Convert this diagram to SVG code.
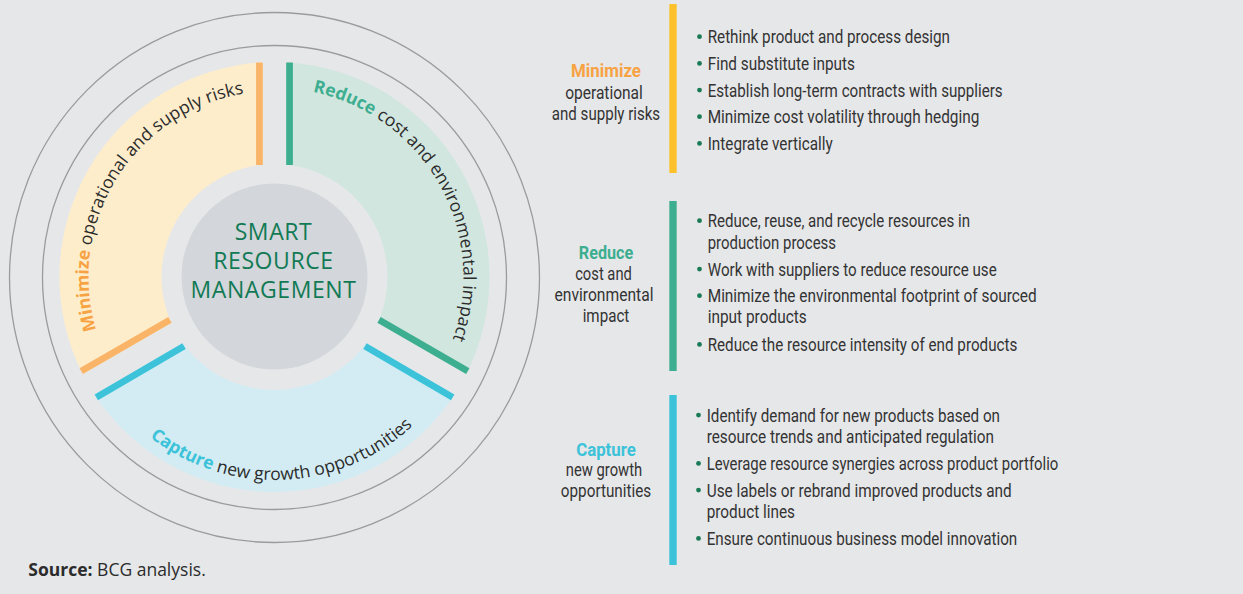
<svg xmlns="http://www.w3.org/2000/svg" width="1243" height="594" viewBox="0 0 1243 594">
<style>
.ring{fill:none;stroke:#9b9b9b;stroke-width:1.3}
.arc{font-family:"Open Sans","Noto Sans",sans-serif;font-size:17.5px;fill:#2b2b2b}
.ctr{font-family:"Open Sans","Noto Sans",sans-serif;font-size:23px;letter-spacing:0.6px;fill:#117a55;text-anchor:middle}
.lbl{font-family:Roboto,"Noto Sans",sans-serif;font-size:19px;fill:#333;text-anchor:middle}
.lo{fill:#f8a343;font-weight:bold}
.lg{fill:#3dae8f;font-weight:bold}
.lc{fill:#3cc3d9;font-weight:bold}
.b{font-family:Roboto,"Noto Sans",sans-serif;font-size:19px;fill:#333}
.dot{fill:#197a56}
.src{font-family:"Open Sans","Noto Sans",sans-serif;font-size:17.5px;fill:#2b2b2b}
</style>
<defs>
<path id="pMin" d="M127.93,391.52 A186,186 0 0 1 313.17,95.07"/>
<path id="pRed" d="M243.31,90.59 A189,189 0 0 1 418.22,399.74"/>
<path id="pCap" d="M86.95,354.69 A203,203 0 0 0 468.1,338.04"/>
</defs>
<rect width="1243" height="594" fill="#e6e7e9"/>
<g id="rings">
<circle class="ring" cx="274.5" cy="277.5" r="265"/>
<circle class="ring" cx="274.5" cy="277.5" r="232"/>
</g>
<g id="sector-minimize">
<path d="M262.8,62.32 A215,215 0 0 0 82.74,374.21 L171.32,323.07 A113,113 0 0 1 262.8,164.61 Z" fill="#feedcb"/>
<line x1="259.45" y1="62.52" x2="259.45" y2="165" stroke="#f9b467" stroke-width="6.7"/>
<line x1="169.98" y1="319.97" x2="81.23" y2="371.21" stroke="#f9b467" stroke-width="6.7"/>
<text class="arc"><textPath href="#pMin" startOffset="50%" text-anchor="middle"><tspan font-weight="bold" fill="#f8a343">Minimize</tspan> operational and supply risks</textPath></text>
</g>
<g id="sector-reduce">
<path d="M286.2,62.32 A215,215 0 0 1 466.26,374.21 L377.68,323.07 A113,113 0 0 0 286.2,164.61 Z" fill="#d1e6df"/>
<line x1="289.55" y1="62.52" x2="289.55" y2="165" stroke="#3dae8f" stroke-width="6.7"/>
<line x1="379.02" y1="319.97" x2="467.77" y2="371.21" stroke="#3dae8f" stroke-width="6.7"/>
<text class="arc"><textPath href="#pRed" startOffset="50%" text-anchor="middle"><tspan font-weight="bold" fill="#3dae8f">Reduce</tspan> cost and environmental impact</textPath></text>
</g>
<g id="sector-capture">
<path d="M94.44,394.47 A215,215 0 0 0 454.56,394.47 L365.98,343.33 A113,113 0 0 1 183.02,343.33 Z" fill="#d3ecf3"/>
<line x1="184.04" y1="346.03" x2="96.29" y2="397.27" stroke="#3cc3d9" stroke-width="6.7"/>
<line x1="364.96" y1="346.03" x2="452.71" y2="397.27" stroke="#3cc3d9" stroke-width="6.7"/>
<text class="arc" font-size="18"><textPath href="#pCap" startOffset="50%" text-anchor="middle"><tspan font-weight="bold" fill="#3cc3d9">Capture</tspan> new growth opportunities</textPath></text>
</g>
<g id="center">
<circle cx="274.5" cy="276.5" r="93" fill="#d3d6da"/>
<text class="ctr" x="273.5" y="240">SMART</text>
<text class="ctr" x="273.5" y="269">RESOURCE</text>
<text class="ctr" x="273.5" y="298">MANAGEMENT</text>
</g>
<g id="panel-minimize">
<text class="lbl lo" x="606" y="77.3" textLength="70" lengthAdjust="spacingAndGlyphs">Minimize</text>
<text class="lbl" x="604" y="98.5" textLength="77.7" lengthAdjust="spacingAndGlyphs">operational</text>
<text class="lbl" x="606" y="119.5" textLength="108.3" lengthAdjust="spacingAndGlyphs">and supply risks</text>
<rect x="669.3" y="4" width="7.4" height="169" fill="#fcc12b"/>
<circle class="dot" cx="699.5" cy="36.7" r="2.4"/>
<text class="b" x="707.7" y="43.3" textLength="242.3" lengthAdjust="spacingAndGlyphs">Rethink product and process design</text>
<circle class="dot" cx="699.5" cy="63.4" r="2.4"/>
<text class="b" x="707.7" y="70" textLength="147.3" lengthAdjust="spacingAndGlyphs">Find substitute inputs</text>
<circle class="dot" cx="699.5" cy="90.1" r="2.4"/>
<text class="b" x="707.7" y="96.7" textLength="295" lengthAdjust="spacingAndGlyphs">Establish long-term contracts with suppliers</text>
<circle class="dot" cx="699.5" cy="116.7" r="2.4"/>
<text class="b" x="707.7" y="123.3" textLength="271.6" lengthAdjust="spacingAndGlyphs">Minimize cost volatility through hedging</text>
<circle class="dot" cx="699.5" cy="143.4" r="2.4"/>
<text class="b" x="707.7" y="150" textLength="125" lengthAdjust="spacingAndGlyphs">Integrate vertically</text>
</g>
<g id="panel-reduce">
<text class="lbl lg" x="606" y="259" textLength="54.3" lengthAdjust="spacingAndGlyphs">Reduce</text>
<text class="lbl" x="603.5" y="280" textLength="56.7" lengthAdjust="spacingAndGlyphs">cost and</text>
<text class="lbl" x="604" y="301" textLength="99" lengthAdjust="spacingAndGlyphs">environmental</text>
<text class="lbl" x="606" y="322" textLength="46.6" lengthAdjust="spacingAndGlyphs">impact</text>
<rect x="669.3" y="201" width="7.4" height="170" fill="#3dae8f"/>
<circle class="dot" cx="699.5" cy="220.7" r="2.4"/>
<text class="b" x="707.7" y="227.3" textLength="262.3" lengthAdjust="spacingAndGlyphs">Reduce, reuse, and recycle resources in</text>
<text class="b" x="707.7" y="249" textLength="128.3" lengthAdjust="spacingAndGlyphs">production process</text>
<circle class="dot" cx="699.5" cy="269.1" r="2.4"/>
<text class="b" x="707.7" y="275.7" textLength="289" lengthAdjust="spacingAndGlyphs">Work with suppliers to reduce resource use</text>
<circle class="dot" cx="699.5" cy="295.7" r="2.4"/>
<text class="b" x="707.7" y="302.3" textLength="329" lengthAdjust="spacingAndGlyphs">Minimize the environmental footprint of sourced</text>
<text class="b" x="707.7" y="323.3" textLength="99" lengthAdjust="spacingAndGlyphs">input products</text>
<circle class="dot" cx="699.5" cy="344.4" r="2.4"/>
<text class="b" x="707.7" y="351" textLength="309.6" lengthAdjust="spacingAndGlyphs">Reduce the resource intensity of end products</text>
</g>
<g id="panel-capture">
<text class="lbl lc" x="606" y="455.7" textLength="59.7" lengthAdjust="spacingAndGlyphs">Capture</text>
<text class="lbl" x="604" y="476.3" textLength="76.3" lengthAdjust="spacingAndGlyphs">new growth</text>
<text class="lbl" x="606" y="497" textLength="90.3" lengthAdjust="spacingAndGlyphs">opportunities</text>
<rect x="669.3" y="395" width="7.4" height="170" fill="#3cc3d9"/>
<circle class="dot" cx="698.5" cy="415.1" r="2.4"/>
<text class="b" x="706.7" y="421.7" textLength="293.3" lengthAdjust="spacingAndGlyphs">Identify demand for new products based on</text>
<text class="b" x="706.7" y="442.7" textLength="287.3" lengthAdjust="spacingAndGlyphs">resource trends and anticipated regulation</text>
<circle class="dot" cx="698.5" cy="463.4" r="2.4"/>
<text class="b" x="706.7" y="470" textLength="351.6" lengthAdjust="spacingAndGlyphs">Leverage resource synergies across product portfolio</text>
<circle class="dot" cx="698.5" cy="490.1" r="2.4"/>
<text class="b" x="706.7" y="496.7" textLength="305" lengthAdjust="spacingAndGlyphs">Use labels or rebrand improved products and</text>
<text class="b" x="706.7" y="517.7" textLength="88.3" lengthAdjust="spacingAndGlyphs">product lines</text>
<circle class="dot" cx="698.5" cy="538.4" r="2.4"/>
<text class="b" x="706.7" y="545" textLength="310.6" lengthAdjust="spacingAndGlyphs">Ensure continuous business model innovation</text>
</g>
<g id="source">
<text class="src" x="28.3" y="576"><tspan font-weight="bold">Source:</tspan> BCG analysis.</text>
</g>
</svg>
